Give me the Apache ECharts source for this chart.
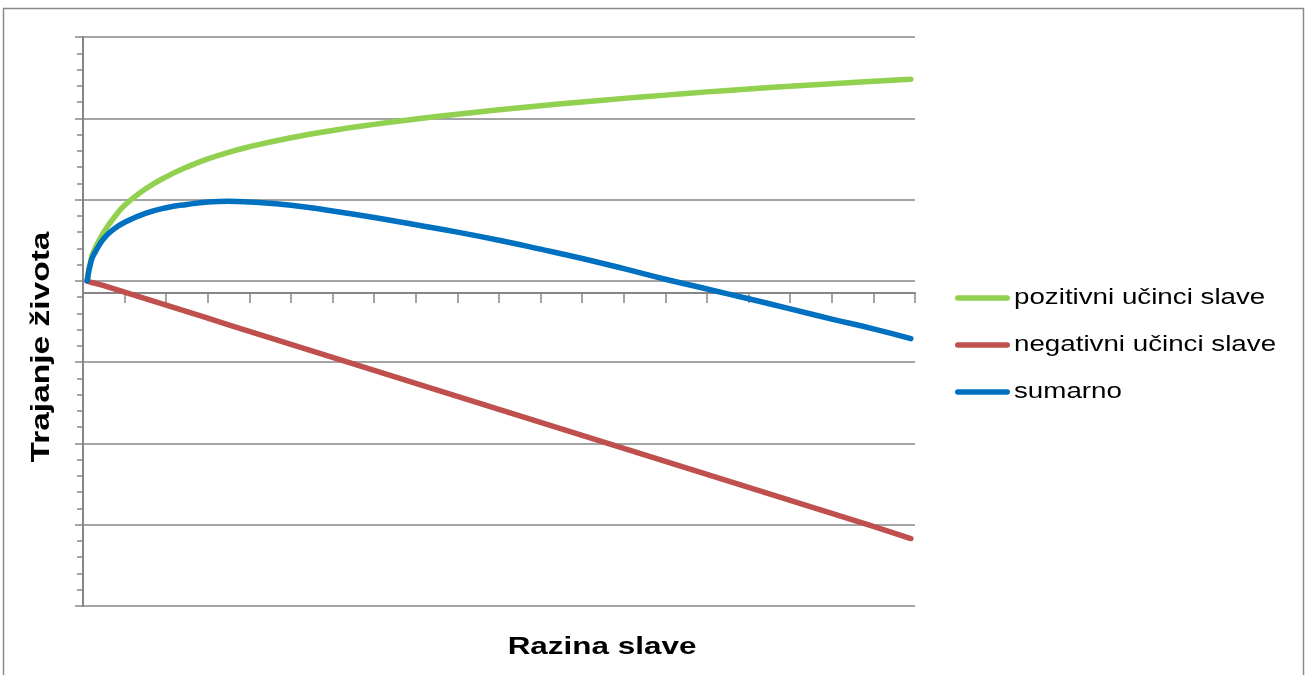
<!DOCTYPE html>
<html>
<head>
<meta charset="utf-8">
<script src="https://cdn.jsdelivr.net/npm/echarts@6/dist/echarts.min.js"></script>
<style>
  html, body { margin: 0; padding: 0; background: #ffffff; }
  #chart { width: 1307px; height: 675px; }
</style>
</head>
<body>
<div id="chart"></div>
<script>
// Razina slave (x) sample points
const razina = [0.1, 0.2, 0.3, 0.5, 0.75, 1, 1.5, 2, 2.5, 3, 3.5, 4, 5, 6, 7, 8, 9, 10, 11, 12, 13, 14, 15, 16, 17, 18, 19, 19.9];

// Trajanje života for each curve
const pozitivni = [0, 0.28, 0.41, 0.60, 0.78, 0.93, 1.13, 1.28, 1.40, 1.50, 1.58, 1.65, 1.76, 1.85, 1.925, 1.99, 2.05, 2.105, 2.155, 2.20, 2.245, 2.285, 2.325, 2.36, 2.395, 2.425, 2.455, 2.48];
const negativni = [0, -0.02, -0.03, -0.06, -0.10, -0.14, -0.22, -0.30, -0.38, -0.46, -0.54, -0.62, -0.78, -0.94, -1.10, -1.26, -1.42, -1.58, -1.74, -1.90, -2.06, -2.22, -2.38, -2.54, -2.70, -2.86, -3.02, -3.17];
const sumarno = [0, 0.25, 0.36, 0.52, 0.64, 0.72, 0.83, 0.90, 0.94, 0.97, 0.98, 0.97, 0.93, 0.86, 0.78, 0.69, 0.60, 0.50, 0.39, 0.275, 0.15, 0.02, -0.10, -0.22, -0.345, -0.47, -0.59, -0.71];

const seriesNames = ['pozitivni učinci slave', 'negativni učinci slave', 'sumarno'];
const seriesColors = ['#92D050', '#C0504D', '#0070C0'];
const xTitle = 'Razina slave';
const yTitle = 'Trajanje života';

const axisGray = '#868686';
const textFont = 'Liberation Sans, Arial, sans-serif';

function pairs(ys) {
  return razina.map((x, i) => [x, ys[i]]);
}

function lineSeries(name, color, ys, smooth) {
  return {
    name: name,
    type: 'line',
    data: pairs(ys),
    symbol: 'none',
    smooth: smooth,
    color: color,
    lineStyle: { color: color, width: 5.5, cap: 'round', join: 'round' }
  };
}

// Legend on the right: a thick line sample followed by the (wide) label
function legendItems() {
  const items = [];
  seriesNames.forEach((name, i) => {
    const cy = 298 + i * 47;
    items.push({
      type: 'rect',
      silent: true,
      shape: { x: 955, y: cy - 2.75, width: 55, height: 5.5, r: 2.75 },
      style: { fill: seriesColors[i] }
    });
    items.push({
      type: 'text',
      silent: true,
      x: 1014,
      y: cy,
      scaleX: 1.29,
      style: {
        text: name,
        fontFamily: textFont,
        fontSize: 21.5,
        fill: '#000000',
        align: 'left',
        verticalAlign: 'middle'
      }
    });
  });
  return items;
}

const chart = echarts.init(document.getElementById('chart'), null, { renderer: 'canvas' });

chart.setOption({
  backgroundColor: '#ffffff',
  animation: false,
  grid: { left: 83, top: 37, right: 392, bottom: 69, containLabel: false },
  xAxis: {
    type: 'value',
    min: 0,
    max: 20,
    interval: 1,
    position: 'bottom',
    offset: -313,
    axisLine: { show: true, onZero: false, lineStyle: { color: axisGray, width: 2 } },
    axisTick: { show: true, length: 10, inside: false, lineStyle: { color: axisGray, width: 1.5 } },
    axisLabel: { show: false },
    splitLine: { show: false }
  },
  yAxis: {
    type: 'value',
    min: -4,
    max: 3,
    interval: 1,
    axisLine: { show: true, onZero: false, lineStyle: { color: axisGray, width: 2 } },
    axisTick: { show: true, length: 8, inside: false, lineStyle: { color: axisGray, width: 1.5 } },
    minorTick: { show: true, splitNumber: 5, length: 6, lineStyle: { color: axisGray, width: 1.5 } },
    axisLabel: { show: false },
    splitLine: { show: true, lineStyle: { color: axisGray, width: 1.5 } }
  },
  graphic: [
    {
      type: 'rect',
      silent: true,
      shape: { x: 3.5, y: 8.5, width: 1300, height: 700 },
      style: { fill: 'none', stroke: '#8a8a8a', lineWidth: 1.5 }
    },
    {
      type: 'text',
      silent: true,
      x: 602,
      y: 647,
      scaleX: 1.31,
      style: {
        text: xTitle,
        fontFamily: textFont,
        fontWeight: 'bold',
        fontSize: 24,
        fill: '#000000',
        align: 'center',
        verticalAlign: 'middle'
      }
    },
    {
      type: 'text',
      silent: true,
      x: 42,
      y: 347,
      rotation: Math.PI / 2,
      scaleX: 1.34,
      style: {
        text: yTitle,
        fontFamily: textFont,
        fontWeight: 'bold',
        fontSize: 25,
        fill: '#000000',
        align: 'center',
        verticalAlign: 'middle'
      }
    }
  ].concat(legendItems()),
  series: [
    lineSeries(seriesNames[0], seriesColors[0], pozitivni, 0.5),
    lineSeries(seriesNames[1], seriesColors[1], negativni, false),
    lineSeries(seriesNames[2], seriesColors[2], sumarno, 0.5)
  ]
});
</script>
</body>
</html>
